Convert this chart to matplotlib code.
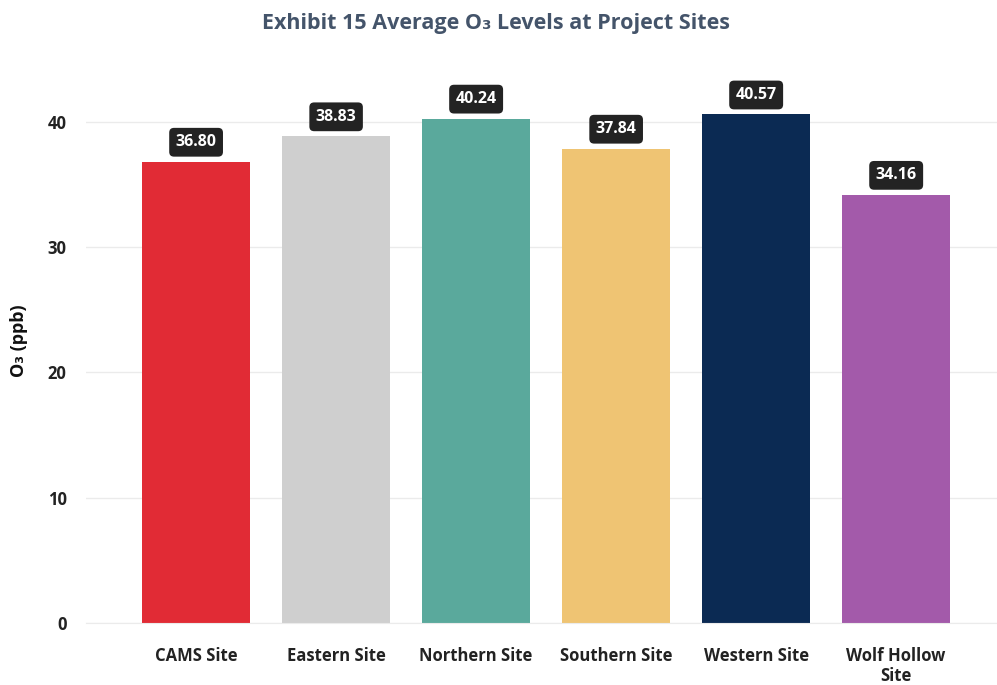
import matplotlib
matplotlib.use("Agg")
import matplotlib.pyplot as plt

# chart data
sites = ["CAMS Site", "Eastern Site", "Northern Site", "Southern Site", "Western Site", "Wolf Hollow\nSite"]
o3_ppb = [36.80, 38.83, 40.24, 37.84, 40.57, 34.16]
bar_colors = ["#E12B35", "#CFCFCF", "#5AA99C", "#EFC473", "#0B2A53", "#A35AAA"]
y_ticks = [0, 10, 20, 30, 40]

plt.rcParams['font.family'] = ['Open Sans', 'DejaVu Sans']

fig = plt.figure(figsize=(9.97, 6.85), dpi=100)
ax = fig.add_axes([0.0863, 0.0905, 0.9137, 0.8235])

x = range(len(sites))
ax.bar(x, o3_ppb, width=0.77, color=bar_colors, zorder=2)

# value labels in dark rounded boxes
for xi, v in zip(x, o3_ppb):
    ax.annotate(f"{v:.2f}", (xi, v), xytext=(0, 14), textcoords="offset points",
                ha="center", va="center", color="white", fontsize=11.5, fontweight="bold",
                bbox=dict(boxstyle="round,pad=0.4,rounding_size=0.3", fc="#232323", ec="none"),
                zorder=3)

ax.set_xlim(-0.786, 5.72)
ax.set_ylim(0, 45)
ax.set_yticks(y_ticks)
ax.set_xticks(list(x))
ax.set_xticklabels(sites, fontsize=12, fontweight="bold", color="#222222")
ax.tick_params(axis="y", labelsize=12, labelcolor="#222222", length=0, pad=14)
ax.tick_params(axis="x", length=0, pad=17)
for lbl in ax.get_yticklabels():
    lbl.set_fontweight("bold")

ax.grid(axis="y", color="#EBEBEB", linewidth=1, zorder=0)
for s in ["top", "right", "left"]:
    ax.spines[s].set_visible(False)
ax.spines["bottom"].set_color("#EBEBEB")

ax.set_ylabel("O₃ (ppb)", fontsize=13, fontweight="bold", color="#111111", labelpad=14)

fig.text(0.497, 0.966, "Exhibit 15 Average O₃ Levels at Project Sites", ha="center", va="center",
         fontsize=15.5, fontweight="bold", color="#44546A")

plt.savefig("out.png", dpi=100)
plt.close()
